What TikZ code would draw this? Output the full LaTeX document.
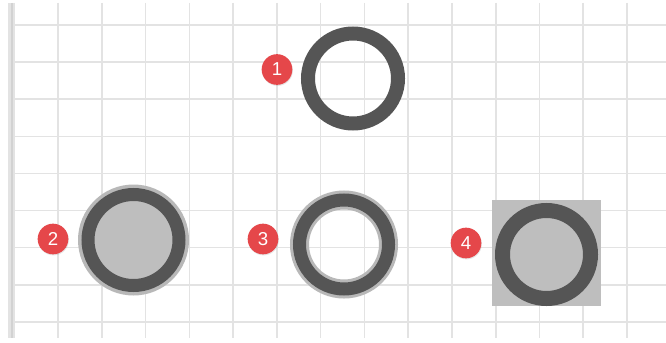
\documentclass[tikz,border=0pt]{standalone}
\usepackage{fontspec}
\setmainfont{Liberation Sans}
\usepackage{xcolor}
\usetikzlibrary{positioning, shadows}

\definecolor{gridgray}{HTML}{E3E3E3}
\definecolor{edgegray}{HTML}{D2D2D2}
\definecolor{ringgray}{HTML}{555555}
\definecolor{fillgray}{HTML}{BEBEBE}
\definecolor{halogray}{HTML}{B8B8B8}
\definecolor{badgered}{HTML}{E5474A}

\begin{document}
\begin{tikzpicture}[x=0.75pt, y=-0.75pt,
    badge/.style={circle, fill=badgered, text=white, inner sep=0pt,
      minimum size=23pt, font=\fontsize{14}{14}\selectfont,
      drop shadow={opacity=0.2, shadow xshift=0.4pt, shadow yshift=-0.8pt}},
    ring/.style={circle, draw=ringgray, inner sep=0pt}]
  \useasboundingbox (0,0) rectangle (666,342);
  \fill[white] (0,0) rectangle (666,342);
  % grid
  \foreach \gx in {0,...,13}
    \draw[gridgray, line width=1.2pt] ({58+43.77*\gx},3) -- ({58+43.77*\gx},338);
  \foreach \gy in {0,...,8}
    \draw[gridgray, line width=1.2pt] (15,{25+37.1*\gy}) -- (666,{25+37.1*\gy});
  \draw[gridgray, line width=5pt] (11.5,3) -- (11.5,338);
  \draw[edgegray, line width=2pt] (12,3) -- (12,338);

  % 1: plain ring
  \node[ring, line width=10.5pt, minimum size=67.5pt] (ring1) at (353,78.5) {};
  \node[badge] (b1) at (277,69.5) {1};

  % 2: filled ring with outer halo
  \fill[halogray] (133.5,240) circle (55.5);
  \node[ring, fill=fillgray, line width=9.75pt, minimum size=68.25pt] (ring2) at (133.5,240) {};
  \node[badge] (b2) at (53,239) {2};

  % 3: ring with halo on both sides
  \draw[halogray, line width=14.25pt] (344,244.5) circle (44.5);
  \node[ring, line width=9.75pt, minimum size=66.75pt] (ring3) at (344,244.5) {};
  \node[badge] (b3) at (263,239) {3};

  % 4: filled ring on a square
  \fill[fillgray] (492,200) rectangle (601,306);
  \node[ring, fill=fillgray, line width=11.25pt, minimum size=66pt] (ring4) at (546.5,254.5) {};
  \node[badge] (b4) at (466,243) {4};
\end{tikzpicture}
\end{document}
